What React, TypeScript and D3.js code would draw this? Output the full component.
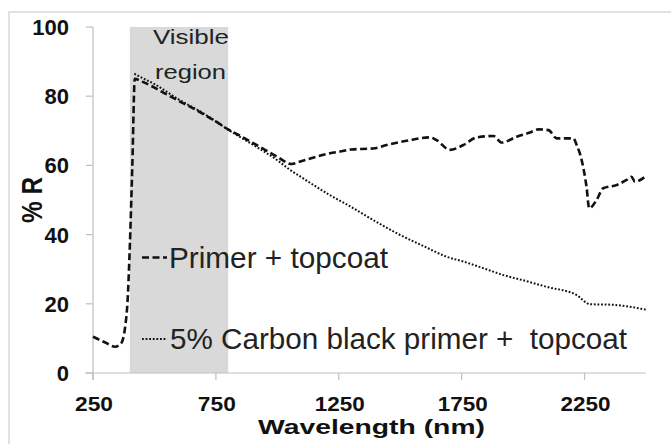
import React from "react";
import * as d3 from "d3";

const primerWl = [250, 300, 339, 360, 372, 382, 390, 400, 410, 420, 450, 500, 550, 600, 650, 700, 750, 800, 850, 900, 950, 1000, 1057, 1100, 1214, 1255, 1300, 1390, 1445, 1526, 1621, 1648, 1702, 1757, 1811, 1879, 1913, 1974, 2028, 2062, 2103, 2137, 2204, 2218, 2238, 2258, 2269, 2299, 2326, 2380, 2421, 2441, 2455, 2500];
const primerR = [10.5, 8.8, 7.6, 8.2, 9.8, 14, 20, 37, 60, 85, 84.2, 82.5, 80.5, 78.6, 76.8, 74.8, 72.7, 70.4, 68.5, 66.5, 64.5, 62.5, 60.4, 61.3, 63.5, 64, 64.6, 64.9, 65.9, 67.1, 68.1, 67.3, 64.5, 65.9, 68.1, 68.5, 66.6, 68.3, 69.5, 70.4, 70.2, 67.8, 67.8, 65.9, 61.6, 53.8, 47.6, 50, 53.4, 54.3, 55.8, 56.7, 55.3, 56.9];

const carbonWl = [418, 450, 500, 600, 700, 800, 900, 1000, 1050, 1100, 1200, 1300, 1400, 1486, 1600, 1689, 1757, 1850, 1920, 2000, 2096, 2218, 2272, 2367, 2500];
const carbonR = [86.5, 85.3, 83.5, 79, 75, 70.3, 66, 61.5, 58.8, 56.5, 52, 48, 43.8, 40.4, 36.5, 33.6, 32.2, 30, 28.3, 26.8, 24.9, 22.5, 19.9, 19.7, 18.3];

const xTicks = [250, 750, 1250, 1750, 2250];
const yTicks = [0, 20, 40, 60, 80, 100];
const visibleBand = [400, 800];
const seriesNames = ["Primer + topcoat", "5% Carbon black primer +  topcoat"];

export default function App() {
  const x = d3.scaleLinear().domain([250, 2500]).range([93, 646]);
  const y = d3.scaleLinear().domain([0, 100]).range([373, 27]);
  const line = d3
    .line<[number, number]>()
    .x((d) => x(d[0]))
    .y((d) => y(d[1]))
    .curve(d3.curveMonotoneX);
  const primer = primerWl.map((w, i) => [w, primerR[i]] as [number, number]);
  const carbon = carbonWl.map((w, i) => [w, carbonR[i]] as [number, number]);
  const axisColor = "#bfbfbf";
  const font = "'Liberation Sans', Arial, sans-serif";

  return (
    <svg
      width={671}
      height={444}
      style={{ position: "absolute", left: 0, top: 0, display: "block", background: "#fff" }}
    >
      <rect x={9} y={12} width={720} height={500} fill="#fff" stroke="#d9d9d9" strokeWidth={1.5} />
      <rect
        x={x(visibleBand[0])}
        y={y(100)}
        width={x(visibleBand[1]) - x(visibleBand[0])}
        height={y(0) - y(100)}
        fill="#d9d9d9"
      />
      {/* axes */}
      <line x1={x(250)} x2={x(250)} y1={y(100)} y2={y(0) + 7} stroke={axisColor} strokeWidth={1.2} />
      <line x1={x(250) - 8} x2={x(2500)} y1={y(0)} y2={y(0)} stroke={axisColor} strokeWidth={1.2} />
      {yTicks.map((t) => (
        <g key={"y" + t}>
          <line x1={x(250) - 7} x2={x(250)} y1={y(t)} y2={y(t)} stroke={axisColor} strokeWidth={1.2} />
          <text x={69} y={y(t) + 8} textAnchor="end" fontFamily={font} fontWeight="bold" fontSize={22} fill="#111">
            {t}
          </text>
        </g>
      ))}
      {xTicks.map((t) => (
        <g key={"x" + t}>
          <line x1={x(t)} x2={x(t)} y1={y(0)} y2={y(0) + 7} stroke={axisColor} strokeWidth={1.2} />
          <text x={x(t) + 1} y={411} textAnchor="middle" fontFamily={font} fontWeight="bold" fontSize={21} textLength={t < 1000 ? 38 : 50} lengthAdjust="spacingAndGlyphs" fill="#111">
            {t}
          </text>
        </g>
      ))}
      <text
        x={371.5}
        y={433.5}
        textAnchor="middle"
        fontFamily={font}
        fontWeight="bold"
        fontSize={19.5}
        textLength={227}
        lengthAdjust="spacingAndGlyphs"
        fill="#111"
      >
        Wavelength (nm)
      </text>
      <text
        transform="translate(41.5,200) rotate(-90)"
        textAnchor="middle"
        fontFamily={font}
        fontWeight="bold"
        fontSize={29}
        textLength={46}
        lengthAdjust="spacingAndGlyphs"
        fill="#111"
      >
        % R
      </text>
      {/* series */}
      <path d={line(primer) || ""} fill="none" stroke="#111" strokeWidth={2.6} strokeDasharray="7,3.5" />
      <path d={line(carbon) || ""} fill="none" stroke="#111" strokeWidth={2} strokeDasharray="1.8,1.8" />
      {/* band label */}
      <text x={191} y={44} textAnchor="middle" fontFamily={font} fontSize={21} textLength={76} lengthAdjust="spacingAndGlyphs" fill="#222">
        Visible
      </text>
      <text x={190.5} y={79} textAnchor="middle" fontFamily={font} fontSize={21} textLength={71} lengthAdjust="spacingAndGlyphs" fill="#222">
        region
      </text>
      {/* legend */}
      <line x1={142} x2={167} y1={257.5} y2={257.5} stroke="#111" strokeWidth={2.6} strokeDasharray="7,3.5" />
      <text x={169} y={268} fontFamily={font} fontSize={29} textLength={219} lengthAdjust="spacingAndGlyphs" fill="#222">
        {seriesNames[0]}
      </text>
      <line x1={142} x2={167} y1={339} y2={339} stroke="#111" strokeWidth={2} strokeDasharray="1.8,1.8" />
      <text
        x={170}
        y={349}
        fontFamily={font}
        fontSize={29}
        textLength={457}
        lengthAdjust="spacingAndGlyphs"
        fill="#222"
        style={{ whiteSpace: "pre" }}
      >
        {seriesNames[1]}
      </text>
    </svg>
  );
}
